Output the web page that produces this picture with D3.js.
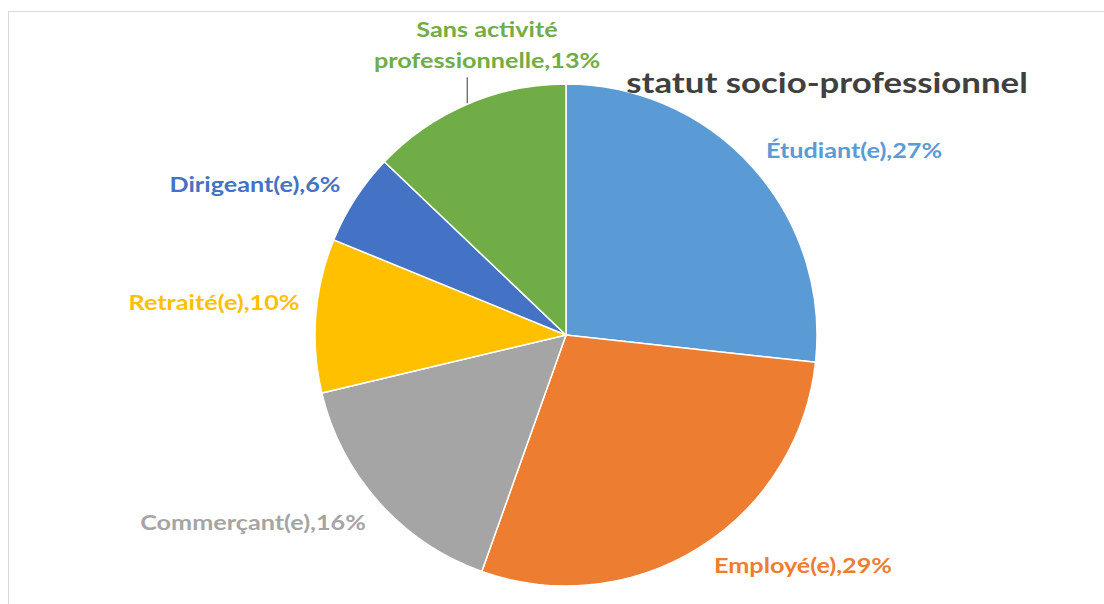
<!DOCTYPE html>
<html>
<head>
<meta charset="utf-8">
<script src="https://cdn.jsdelivr.net/npm/d3@7"></script>
<style>
  html, body { margin: 0; padding: 0; background: #fff; }
  svg { display: block; }
  text { font-family: Lato, "Open Sans", sans-serif; font-weight: bold; }
</style>
</head>
<body>
<svg id="chart" width="1104" height="604"></svg>
<script>
// Répartition par statut socio-professionnel (en %)
const categories = ["Étudiant(e)", "Employé(e)", "Commerçant(e)", "Retraité(e)", "Dirigeant(e)", "Sans activité professionnelle"];
const values = [27, 29, 16, 10, 6, 13];
const palette = ["#5B9BD5", "#ED7D31", "#A5A5A5", "#FFC000", "#4472C4", "#70AD47"];
const title = "statut socio-professionnel";

// Label layout: centre of each label relative to the pie centre (px), and its line breaks
const labelLayout = [
  { dx: 288, dy: -184, lines: ["Étudiant(e),27%"] },
  { dx: 237, dy: 231, lines: ["Employé(e),29%"] },
  { dx: -313, dy: 188, lines: ["Commerçant(e),16%"] },
  { dx: -352, dy: -32, lines: ["Retraité(e),10%"] },
  { dx: -311, dy: -150, lines: ["Dirigeant(e),6%"] },
  { dx: -79, dy: -290, lines: ["Sans activité", "professionnelle,13%"] }
];

const svg = d3.select("#chart");
const W = 1104, H = 604;
const stretch = 1.2; // horizontal stretch applied to all text

// chart area frame
svg.append("rect")
  .attr("x", 8.5).attr("y", 11.5)
  .attr("width", W + 10).attr("height", H + 10)
  .attr("fill", "#fff").attr("stroke", "#d9d9d9").attr("stroke-width", 1);

const cx = 566, cy = 335, R = 251;

const pie = d3.pie().sort(null).value(d => d);
const arcs = pie(values);
const arc = d3.arc().innerRadius(0).outerRadius(R);
const color = d3.scaleOrdinal().domain(categories).range(palette);

const g = svg.append("g").attr("transform", `translate(${cx},${cy})`);

g.selectAll("path.slice")
  .data(arcs)
  .join("path")
  .attr("class", "slice")
  .attr("d", arc)
  .attr("fill", (d, i) => color(categories[i]))
  .attr("stroke", "#fff")
  .attr("stroke-width", 1.5);

// leader line for the top label, rising from the middle of its slice's rim
const last = arcs[arcs.length - 1];
const leaderAngle = (last.startAngle + last.endAngle) / 2;
const pEdge = [R * Math.sin(leaderAngle), -R * Math.cos(leaderAngle)];
g.append("line")
  .attr("x1", pEdge[0]).attr("y1", pEdge[1] - 1)
  .attr("x2", pEdge[0]).attr("y2", pEdge[1] - 27)
  .attr("stroke", "#595959").attr("stroke-width", 1.2);

// data labels
const lineH = 31;
const labels = g.selectAll("g.label")
  .data(arcs)
  .join("g")
  .attr("class", "label")
  .attr("transform", (d, i) => `translate(${labelLayout[i].dx},${labelLayout[i].dy}) scale(${stretch},1)`);

labels.append("text")
  .attr("text-anchor", "middle")
  .attr("font-size", 21)
  .attr("fill", (d, i) => color(categories[i]))
  .each(function (d, i) {
    const L = labelLayout[i];
    const n = L.lines.length;
    d3.select(this).selectAll("tspan")
      .data(L.lines)
      .join("tspan")
      .attr("x", 0)
      .attr("y", (t, k) => (k - (n - 1) / 2) * lineH)
      .attr("dy", "0.35em")
      .text(t => t);
  });

// title
svg.append("g")
  .attr("transform", `translate(827,83) scale(${stretch},1)`)
  .append("text")
  .attr("dy", "0.35em")
  .attr("text-anchor", "middle")
  .attr("font-size", 29)
  .attr("fill", "#404040")
  .text(title);
</script>
</body>
</html>
